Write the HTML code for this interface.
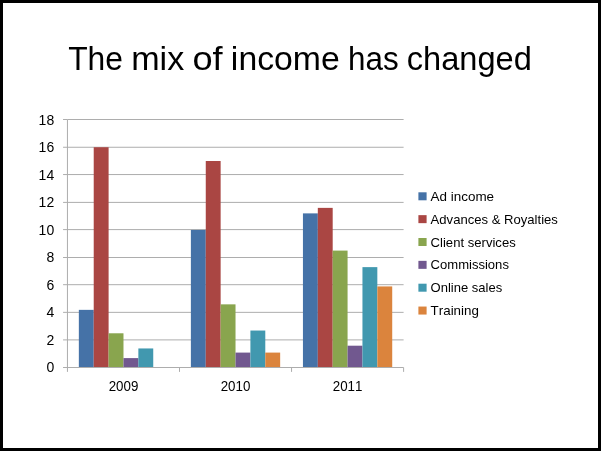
<!DOCTYPE html>
<html lang="en">
<head>
<meta charset="utf-8">
<title>The mix of income has changed</title>
<style>
html,body{margin:0;padding:0;background:#000;}
body{width:601px;height:451px;overflow:hidden;}
svg{display:block;}
text{font-family:"Liberation Sans",sans-serif;fill:#000;font-kerning:none;}
.t{font-size:33px;}
.a{font-size:14px;}
.l{font-size:13.5px;}
</style>
</head>
<body>
<svg width="601" height="451" viewBox="0 0 601 451">
<rect x="0" y="0" width="601" height="451" fill="#000"/>
<rect x="3" y="3" width="595" height="445" fill="#fff"/>
<text class="t" y="70"><tspan x="68.20" textLength="54.80" lengthAdjust="spacingAndGlyphs">The</tspan> <tspan x="131.21" textLength="53.02" lengthAdjust="spacingAndGlyphs">mix</tspan> <tspan x="192.45" textLength="30.22" lengthAdjust="spacingAndGlyphs">of</tspan> <tspan x="230.88" textLength="108.90" lengthAdjust="spacingAndGlyphs">income</tspan> <tspan x="347.99" textLength="50.64" lengthAdjust="spacingAndGlyphs">has</tspan> <tspan x="406.84" textLength="125.02" lengthAdjust="spacingAndGlyphs">changed</tspan></text>
<g stroke="#adadad" stroke-width="1" fill="none">
<line x1="67.45" y1="339.90" x2="403.60" y2="339.90"/>
<line x1="67.45" y1="312.35" x2="403.60" y2="312.35"/>
<line x1="67.45" y1="284.70" x2="403.60" y2="284.70"/>
<line x1="67.45" y1="257.50" x2="403.60" y2="257.50"/>
<line x1="67.45" y1="229.60" x2="403.60" y2="229.60"/>
<line x1="67.45" y1="202.40" x2="403.60" y2="202.40"/>
<line x1="67.45" y1="174.55" x2="403.60" y2="174.55"/>
<line x1="67.45" y1="147.25" x2="403.60" y2="147.25"/>
<line x1="67.45" y1="119.50" x2="403.60" y2="119.50"/>
</g>
<rect x="78.84" y="309.86" width="14.88" height="57.64" fill="#4572a7"/>
<rect x="93.72" y="147.22" width="14.88" height="220.28" fill="#aa4643"/>
<rect x="108.60" y="333.29" width="14.88" height="34.21" fill="#89a54e"/>
<rect x="123.48" y="358.10" width="14.88" height="9.40" fill="#71588f"/>
<rect x="138.36" y="348.45" width="14.88" height="19.05" fill="#4198af"/>
<rect x="190.88" y="229.92" width="14.88" height="137.58" fill="#4572a7"/>
<rect x="205.76" y="161.00" width="14.88" height="206.50" fill="#aa4643"/>
<rect x="220.64" y="304.35" width="14.88" height="63.15" fill="#89a54e"/>
<rect x="235.52" y="352.59" width="14.88" height="14.91" fill="#71588f"/>
<rect x="250.41" y="330.54" width="14.88" height="36.96" fill="#4198af"/>
<rect x="265.28" y="352.59" width="14.88" height="14.91" fill="#db843d"/>
<rect x="302.94" y="213.38" width="14.88" height="154.12" fill="#4572a7"/>
<rect x="317.81" y="207.87" width="14.88" height="159.63" fill="#aa4643"/>
<rect x="332.69" y="250.59" width="14.88" height="116.91" fill="#89a54e"/>
<rect x="347.57" y="345.70" width="14.88" height="21.80" fill="#71588f"/>
<rect x="362.45" y="267.13" width="14.88" height="100.37" fill="#4198af"/>
<rect x="377.34" y="286.43" width="14.88" height="81.07" fill="#db843d"/>
<g stroke="#adadad" stroke-width="1" fill="none">
<line x1="67.45" y1="119.50" x2="67.45" y2="371.90"/>
<line x1="63.05" y1="367.50" x2="403.60" y2="367.50"/>
<line x1="63.05" y1="339.90" x2="67.45" y2="339.90"/>
<line x1="63.05" y1="312.35" x2="67.45" y2="312.35"/>
<line x1="63.05" y1="284.70" x2="67.45" y2="284.70"/>
<line x1="63.05" y1="257.50" x2="67.45" y2="257.50"/>
<line x1="63.05" y1="229.60" x2="67.45" y2="229.60"/>
<line x1="63.05" y1="202.40" x2="67.45" y2="202.40"/>
<line x1="63.05" y1="174.55" x2="67.45" y2="174.55"/>
<line x1="63.05" y1="147.25" x2="67.45" y2="147.25"/>
<line x1="63.05" y1="119.50" x2="67.45" y2="119.50"/>
<line x1="179.50" y1="367.50" x2="179.50" y2="371.90"/>
<line x1="291.55" y1="367.50" x2="291.55" y2="371.90"/>
<line x1="403.60" y1="367.50" x2="403.60" y2="371.90"/>
</g>
<g class="a" text-anchor="end">
<text x="54.2" y="124.61">18</text>
<text x="54.2" y="152.09">16</text>
<text x="54.2" y="179.58">14</text>
<text x="54.2" y="207.07">12</text>
<text x="54.2" y="234.56">10</text>
<text x="54.2" y="262.05">8</text>
<text x="54.2" y="289.54">6</text>
<text x="54.2" y="317.02">4</text>
<text x="54.2" y="344.51">2</text>
<text x="54.2" y="372.00">0</text>
</g>
<g class="a" text-anchor="middle">
<text x="123.48" y="391.2" textLength="29.7" lengthAdjust="spacingAndGlyphs">2009</text>
<text x="235.53" y="391.2" textLength="29.7" lengthAdjust="spacingAndGlyphs">2010</text>
<text x="347.57" y="391.2" textLength="29.7" lengthAdjust="spacingAndGlyphs">2011</text>
</g>
<g class="l">
<rect x="418.4" y="192.30" width="8.2" height="8" fill="#4572a7"/>
<text x="430.6" y="201.00" textLength="63.48" lengthAdjust="spacingAndGlyphs">Ad income</text>
<rect x="418.4" y="215.15" width="8.2" height="8" fill="#aa4643"/>
<text x="430.6" y="224.00" textLength="127.27" lengthAdjust="spacingAndGlyphs">Advances &amp; Royalties</text>
<rect x="418.4" y="238.00" width="8.2" height="8" fill="#89a54e"/>
<text x="430.6" y="247.00" textLength="85.11" lengthAdjust="spacingAndGlyphs">Client services</text>
<rect x="418.4" y="260.85" width="8.2" height="8" fill="#71588f"/>
<text x="430.6" y="269.00" textLength="78.31" lengthAdjust="spacingAndGlyphs">Commissions</text>
<rect x="418.4" y="283.70" width="8.2" height="8" fill="#4198af"/>
<text x="430.6" y="292.00" textLength="71.58" lengthAdjust="spacingAndGlyphs">Online sales</text>
<rect x="418.4" y="306.55" width="8.2" height="8" fill="#db843d"/>
<text x="430.6" y="315.00" textLength="48.31" lengthAdjust="spacingAndGlyphs">Training</text>
</g>
</svg>
</body>
</html>
